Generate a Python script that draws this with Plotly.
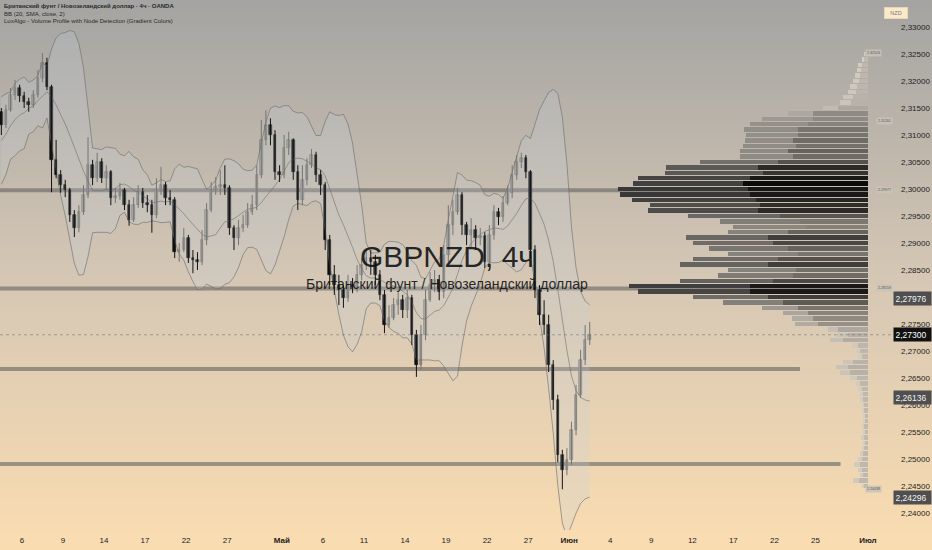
import plotly.graph_objects as go
import pandas as pd
import numpy as np

# ---------------- data (8h bars) ----------------
warmup_close = [2.3026, 2.3017, 2.3072, 2.3091, 2.3119, 2.3072, 2.3128, 2.3109, 2.3143]

opens = [2.3143, 2.3119, 2.3146, 2.3174, 2.3187, 2.3172, 2.3161, 2.3156, 2.3174, 2.3206,
         2.3233, 2.3189, 2.3054, 2.3026, 2.3007, 2.2998, 2.2952, 2.2928, 2.2957, 2.2989,
         2.3044, 2.3020, 2.3050, 2.3020, 2.3031, 2.2983, 2.2987, 2.2998, 2.2970, 2.2943,
         2.2970, 2.2994, 2.2974, 2.2970, 2.2952, 2.2998, 2.3007, 2.2983, 2.2980, 2.2883,
         2.2887, 2.2909, 2.2872, 2.2869, 2.2865, 2.2906, 2.2961, 2.2998, 2.3004, 2.3007,
         2.3002, 2.2928, 2.2909, 2.2928, 2.2933, 2.2957, 2.2970, 2.3026, 2.3091, 2.3119,
         2.3100, 2.3031, 2.3026, 2.3076, 2.3091, 2.3031, 2.2980, 2.3017, 2.3044, 2.3063,
         2.3026, 2.3007, 2.2906, 2.2841, 2.2822, 2.2813, 2.2798, 2.2822, 2.2819, 2.2841,
         2.2859, 2.2872, 2.2865, 2.2841, 2.2804, 2.2748, 2.2761, 2.2785, 2.2794, 2.2776,
         2.2798, 2.2730, 2.2674, 2.2730, 2.2794, 2.2822, 2.2831, 2.2809, 2.2878, 2.2933,
         2.2957, 2.2989, 2.2933, 2.2915, 2.2924, 2.2909, 2.2913, 2.2865, 2.2915, 2.2957,
         2.2948, 2.2974, 2.2993, 2.3026, 2.3050, 2.3057, 2.3031, 2.2887, 2.2813, 2.2767,
         2.2748, 2.2674, 2.2609, 2.2507, 2.2480, 2.2498, 2.2554, 2.2619, 2.2683, 2.2720]

highs = [2.3150, 2.3156, 2.3187, 2.3202, 2.3193, 2.3180, 2.3169, 2.3183, 2.3220, 2.3252,
         2.3243, 2.3193, 2.3091, 2.3035, 2.3017, 2.3002, 2.2961, 2.2970, 2.3007, 2.3096,
         2.3054, 2.3067, 2.3057, 2.3044, 2.3035, 2.3002, 2.3011, 2.3002, 2.2980, 2.2985,
         2.3007, 2.3002, 2.2989, 2.2980, 2.3020, 2.3041, 2.3013, 2.2998, 2.2985, 2.2900,
         2.2928, 2.2915, 2.2887, 2.2883, 2.2924, 2.2974, 2.3013, 2.3022, 2.3035, 2.3044,
         2.3007, 2.2933, 2.2943, 2.2952, 2.2974, 2.2989, 2.3044, 2.3128, 2.3146, 2.3131,
         2.3109, 2.3044, 2.3100, 2.3106, 2.3094, 2.3044, 2.3044, 2.3057, 2.3074, 2.3069,
         2.3035, 2.3013, 2.2915, 2.2859, 2.2841, 2.2822, 2.2841, 2.2835, 2.2859, 2.2872,
         2.2887, 2.2887, 2.2878, 2.2850, 2.2813, 2.2785, 2.2798, 2.2809, 2.2804, 2.2813,
         2.2804, 2.2739, 2.2748, 2.2813, 2.2846, 2.2850, 2.2841, 2.2896, 2.2970, 2.2980,
         2.3002, 2.2994, 2.2939, 2.2946, 2.2933, 2.2928, 2.2920, 2.2933, 2.2970, 2.2965,
         2.2987, 2.3006, 2.3044, 2.3063, 2.3067, 2.3063, 2.3035, 2.2896, 2.2822, 2.2794,
         2.2767, 2.2683, 2.2619, 2.2517, 2.2520, 2.2569, 2.2637, 2.2702, 2.2748, 2.2754]

lows = [2.3100, 2.3113, 2.3143, 2.3165, 2.3161, 2.3150, 2.3143, 2.3150, 2.3169, 2.3198,
        2.3183, 2.2994, 2.3020, 2.2993, 2.2985, 2.2939, 2.2911, 2.2920, 2.2952, 2.2983,
        2.3007, 2.3013, 2.3011, 2.2998, 2.2970, 2.2974, 2.2980, 2.2961, 2.2932, 2.2939,
        2.2965, 2.2965, 2.2957, 2.2919, 2.2946, 2.2989, 2.2970, 2.2970, 2.2872, 2.2865,
        2.2883, 2.2863, 2.2844, 2.2850, 2.2859, 2.2896, 2.2957, 2.2989, 2.2989, 2.2989,
        2.2915, 2.2887, 2.2896, 2.2920, 2.2928, 2.2952, 2.2961, 2.3020, 2.3081, 2.3081,
        2.3017, 2.3013, 2.3020, 2.3063, 2.3017, 2.2961, 2.2970, 2.3007, 2.3039, 2.3013,
        2.2989, 2.2887, 2.2822, 2.2804, 2.2785, 2.2780, 2.2791, 2.2807, 2.2809, 2.2831,
        2.2850, 2.2841, 2.2822, 2.2794, 2.2733, 2.2743, 2.2757, 2.2767, 2.2761, 2.2761,
        2.2711, 2.2652, 2.2665, 2.2720, 2.2791, 2.2809, 2.2794, 2.2798, 2.2865, 2.2915,
        2.2952, 2.2915, 2.2896, 2.2891, 2.2887, 2.2896, 2.2854, 2.2859, 2.2906, 2.2933,
        2.2939, 2.2970, 2.2983, 2.3017, 2.3039, 2.3020, 2.2872, 2.2798, 2.2748, 2.2730,
        2.2661, 2.2591, 2.2494, 2.24438, 2.2470, 2.2489, 2.2544, 2.2613, 2.2674, 2.2711]

closes = [2.3119, 2.3146, 2.3174, 2.3187, 2.3172, 2.3161, 2.3156, 2.3174, 2.3206, 2.3233,
          2.3189, 2.3054, 2.3026, 2.3007, 2.2998, 2.2952, 2.2928, 2.2957, 2.2989, 2.3044,
          2.3020, 2.3050, 2.3020, 2.3031, 2.2983, 2.2987, 2.2998, 2.2970, 2.2943, 2.2970,
          2.2994, 2.2974, 2.2970, 2.2952, 2.2998, 2.3007, 2.2983, 2.2980, 2.2883, 2.2887,
          2.2909, 2.2872, 2.2869, 2.2865, 2.2906, 2.2961, 2.2998, 2.3004, 2.3007, 2.3002,
          2.2928, 2.2909, 2.2928, 2.2933, 2.2957, 2.2970, 2.3026, 2.3091, 2.3119, 2.3100,
          2.3031, 2.3026, 2.3076, 2.3091, 2.3031, 2.2980, 2.3017, 2.3044, 2.3063, 2.3026,
          2.3007, 2.2906, 2.2841, 2.2822, 2.2813, 2.2798, 2.2822, 2.2819, 2.2841, 2.2859,
          2.2872, 2.2865, 2.2841, 2.2804, 2.2748, 2.2761, 2.2785, 2.2794, 2.2776, 2.2798,
          2.2730, 2.2674, 2.2730, 2.2794, 2.2822, 2.2831, 2.2809, 2.2878, 2.2933, 2.2957,
          2.2989, 2.2933, 2.2915, 2.2924, 2.2909, 2.2913, 2.2865, 2.2915, 2.2957, 2.2948,
          2.2974, 2.2993, 2.3026, 2.3050, 2.3057, 2.3031, 2.2887, 2.2813, 2.2767, 2.2748,
          2.2674, 2.2609, 2.2507, 2.2480, 2.2498, 2.2554, 2.2619, 2.2683, 2.2720, 2.2730]

# date axis (bar index positions and labels)
date_tick_pos = [4.5, 13.5, 22.5, 31.5, 40.5, 49.5, 61.5, 70.5, 79.5, 88.5, 97.5,
                 106.5, 115.5, 124.5, 133.5, 142.5, 151.5, 160.5, 169.5, 178.5, 190.0]
date_tick_text = ["6", "9", "14", "17", "22", "27", "<b>Май</b>", "6", "11", "14", "19",
                  "22", "27", "<b>Июн</b>", "4", "9", "12", "17", "22", "25", "<b>Июл</b>"]

# volume profile (rows from 2.325 down to 2.245, relative volume)
vp_top, vp_step, vp_rows = 2.325, 0.001, 81
vp_total = [4, 6, 10, 11, 13, 15, 18, 20, 25, 28,
            45, 80, 106, 118, 124, 122, 123, 125, 128, 128,
            168, 202, 203, 230, 235, 250, 248, 236, 218, 220,
            180, 148, 135, 140, 182, 175, 159, 140, 175, 188,
            140, 150, 188, 239, 230, 175, 145, 106, 85, 76,
            73, 40, 31, 38, 16, 12, 10, 25, 32, 28,
            18, 12, 10, 8, 8, 6, 6, 5, 5, 6,
            5, 7, 5, 6, 8, 10, 14, 10, 8, 15,
            6]
vp_inner = [3, 4, 6, 7, 8, 9, 11, 12, 15, 17,
            30, 55, 55, 60, 70, 70, 75, 72, 80, 75,
            90, 110, 105, 118, 125, 120, 118, 112, 108, 110,
            88, 68, 62, 80, 100, 95, 80, 70, 90, 100,
            72, 75, 95, 118, 118, 100, 85, 70, 60, 55,
            50, 30, 20, 25, 10, 8, 6, 15, 20, 18,
            11, 8, 6, 5, 5, 4, 4, 3, 3, 4,
            3, 4, 3, 4, 5, 6, 8, 6, 5, 9,
            4]

node_price = [2.29977, 2.28159, 2.26667, 2.24907]
node_end = [190.0, 190.0, 175.1, 184.0]
vp_label_price = [2.32524, 2.31261, 2.29977, 2.28159, 2.24438]
vp_label_xpos = [191.3, 193.6, 193.6, 193.6, 191.3]

last_price = 2.27300
bb_last = [2.27976, 2.26136, 2.24296]

# ---------------- figure ----------------
n = len(closes)
idx = list(range(n))

allc = pd.Series(warmup_close + closes)
mid = allc.rolling(10).mean()
sd = allc.rolling(10).std(ddof=0)
bb_mid = mid.iloc[len(warmup_close):].tolist()
bb_up = (mid + 2 * sd).iloc[len(warmup_close):].tolist()
bb_lo = (mid - 2 * sd).iloc[len(warmup_close):].tolist()

fig = go.Figure()

# Bollinger fill & lines
fig.add_trace(go.Scatter(x=idx, y=bb_up, mode="lines", line=dict(color="rgba(105,105,105,0.75)", width=0.8),
                         hoverinfo="skip"))
fig.add_trace(go.Scatter(x=idx, y=bb_lo, mode="lines", line=dict(color="rgba(105,105,105,0.75)", width=0.8),
                         fill="tonexty", fillcolor="rgba(196,208,224,0.22)", hoverinfo="skip"))
fig.add_trace(go.Scatter(x=idx, y=bb_mid, mode="lines", line=dict(color="rgba(105,105,105,0.7)", width=0.8),
                         hoverinfo="skip"))

# volume profile
vp_price = [round(vp_top - k * vp_step, 4) for k in range(vp_rows)]


def mix(c0, c1, t):
    t = max(0.0, min(1.0, t))
    return "rgb(%d,%d,%d)" % tuple(int(a + (b - a) * t) for a, b in zip(c0, c1))


vmax = max(vp_total)
outer_col = [mix((214, 207, 196), (55, 55, 55), (v / vmax) ** 1.2) for v in vp_total]
inner_col = [mix((192, 186, 177), (10, 10, 10), (v / (vmax / 2)) ** 1.6) for v in vp_inner]
fig.add_trace(go.Bar(x=vp_total, y=vp_price, orientation="h", xaxis="x2", yaxis="y",
                     width=0.00085, marker=dict(color=outer_col, line=dict(width=0)), hoverinfo="skip"))
fig.add_trace(go.Bar(x=vp_inner, y=vp_price, orientation="h", xaxis="x2", yaxis="y",
                     width=0.00085, marker=dict(color=inner_col, line=dict(width=0)), hoverinfo="skip"))

# candles
up = [i for i in idx if closes[i] >= opens[i]]
dn = [i for i in idx if closes[i] < opens[i]]


def wick(ids):
    xs, ys = [], []
    for i in ids:
        xs += [i, i, None]
        ys += [lows[i], highs[i], None]
    return xs, ys


for ids, col in ((up, "#777570"), (dn, "#141414")):
    wx, wy = wick(ids)
    fig.add_trace(go.Scatter(x=wx, y=wy, mode="lines", line=dict(color=col, width=1), hoverinfo="skip"))

for ids, fill, edge in ((up, "rgba(160,158,152,0.95)", "#6c6a66"), (dn, "#0e0e0e", "#0e0e0e")):
    base = [min(opens[i], closes[i]) for i in ids]
    hgt = [max(abs(closes[i] - opens[i]), 0.00006) for i in ids]
    fig.add_trace(go.Bar(x=ids, y=hgt, base=base, width=0.55,
                         marker=dict(color=fill, line=dict(color=edge, width=0.6)), hoverinfo="skip"))

# ---------------- background gradient ----------------
shapes = []
H, PH = 550, 530
stops = [(0.0, (164, 164, 162)), (0.5, (213, 199, 181)), (1.0, (251, 221, 177))]


def grad(f):
    for (f0, c0), (f1, c1) in zip(stops[:-1], stops[1:]):
        if f <= f1:
            return mix(c0, c1, (f - f0) / (f1 - f0))
    return mix(stops[-1][1], stops[-1][1], 0)


nstrip = 110
for k in range(nstrip):
    p0, p1 = k * H / nstrip, (k + 1) * H / nstrip
    shapes.append(dict(type="rect", xref="paper", yref="paper", x0=-0.02, x1=1.08,
                       y0=1 - p1 / PH - 0.002, y1=1 - p0 / PH + 0.002,
                       fillcolor=grad((p0 + p1) / 2 / H), line=dict(width=0), layer="below"))

# node lines
for p, e in zip(node_price, node_end):
    shapes.append(dict(type="line", xref="x", yref="y", x0=-0.3, x1=e, y0=p, y1=p,
                       line=dict(color="rgba(100,98,95,0.6)", width=4), layer="below"))

# current price dotted line
shapes.append(dict(type="line", xref="paper", yref="y", x0=0, x1=1, y0=last_price, y1=last_price,
                   line=dict(color="rgba(110,110,110,0.55)", width=1, dash="dot"), layer="above"))

# ---------------- annotations ----------------
ann = []
ann.append(dict(text="GBPNZD, 4ч", xref="paper", yref="paper", x=0.501, y=1 - 256 / PH,
                showarrow=False, font=dict(size=30, color="rgba(15,15,15,0.9)",
                                           family="Liberation Sans, Arial, sans-serif")))
ann.append(dict(text="Британский фунт / Новозеландский доллар", xref="paper", yref="paper",
                x=0.501, y=1 - 284 / PH, showarrow=False,
                font=dict(size=14, color="rgba(15,15,15,0.9)", family="Liberation Sans, Arial, sans-serif")))
legend_lines = ["<b>Британский фунт / Новозеландский доллар · 4ч · OANDA</b>",
                "BB (20, SMA, close, 2)",
                "LuxAlgo - Volume Profile with Node Detection (Gradient Colors)"]
for k, t in enumerate(legend_lines):
    ann.append(dict(text=t, xref="paper", yref="paper", x=0.002, y=1 - (6 + 7.5 * k) / PH,
                    xanchor="left", yanchor="middle", showarrow=False,
                    font=dict(size=6, color="#2a2a2a")))
ann.append(dict(text="NZD", xref="paper", yref="paper", x=908 / 893, y=1 - 7 / PH, showarrow=False,
                font=dict(size=5.5, color="#777"), bgcolor="#fbe9cb", bordercolor="#e9d6b6",
                borderwidth=1, borderpad=2, width=18))
for p, xp in zip(vp_label_price, vp_label_xpos):
    ann.append(dict(text="%.5f" % p, xref="x", yref="y", x=xp, y=p, showarrow=False,
                    font=dict(size=3.6, color="#555"), bgcolor="rgba(200,195,186,0.85)", borderpad=1))
for v in bb_last:
    ann.append(dict(text=("%.5f" % v).replace(".", ","), xref="paper", yref="y", x=1.0, y=v,
                    xanchor="left", showarrow=False, align="left", width=34,
                    font=dict(size=8.5, color="#f2f2f2"), bgcolor="#4f4f4f", borderpad=1.5))
ann.append(dict(text=("%.5f" % last_price).replace(".", ","), xref="paper", yref="y", x=1.0, y=last_price,
                xanchor="left", showarrow=False, align="left", width=34,
                font=dict(size=8.5, color="#ffffff"), bgcolor="#111111", borderpad=1.5))

fig.update_layout(
    width=932, height=550,
    margin=dict(l=0, r=39, t=0, b=20, autoexpand=False),
    paper_bgcolor="rgb(213,199,181)", plot_bgcolor="rgba(0,0,0,0)",
    showlegend=False, barmode="overlay", bargap=0,
    separators=", ",
    font=dict(family="Liberation Sans, Arial, sans-serif", color="#222"),
    shapes=shapes, annotations=ann,
    xaxis=dict(range=[-0.3, 195.5], tickvals=date_tick_pos, ticktext=date_tick_text,
               showgrid=False, zeroline=False, ticks="", showline=False,
               tickfont=dict(size=8, color="#222"), ticklabelstandoff=4),
    xaxis2=dict(overlaying="x", range=[868, -25], visible=False, showgrid=False),
    yaxis=dict(side="right", range=[2.23685, 2.335], dtick=0.005, tick0=2.24, tickformat=".5f",
               showgrid=False, zeroline=False, ticks="", showline=False,
               tickfont=dict(size=8, color="#222"), ticklabelstandoff=7),
)

fig.write_html("out.html", config={"displayModeBar": False},
               post_script="document.body.style.margin='0';document.body.style.padding='0';"
                           "document.body.style.overflow='hidden';")
